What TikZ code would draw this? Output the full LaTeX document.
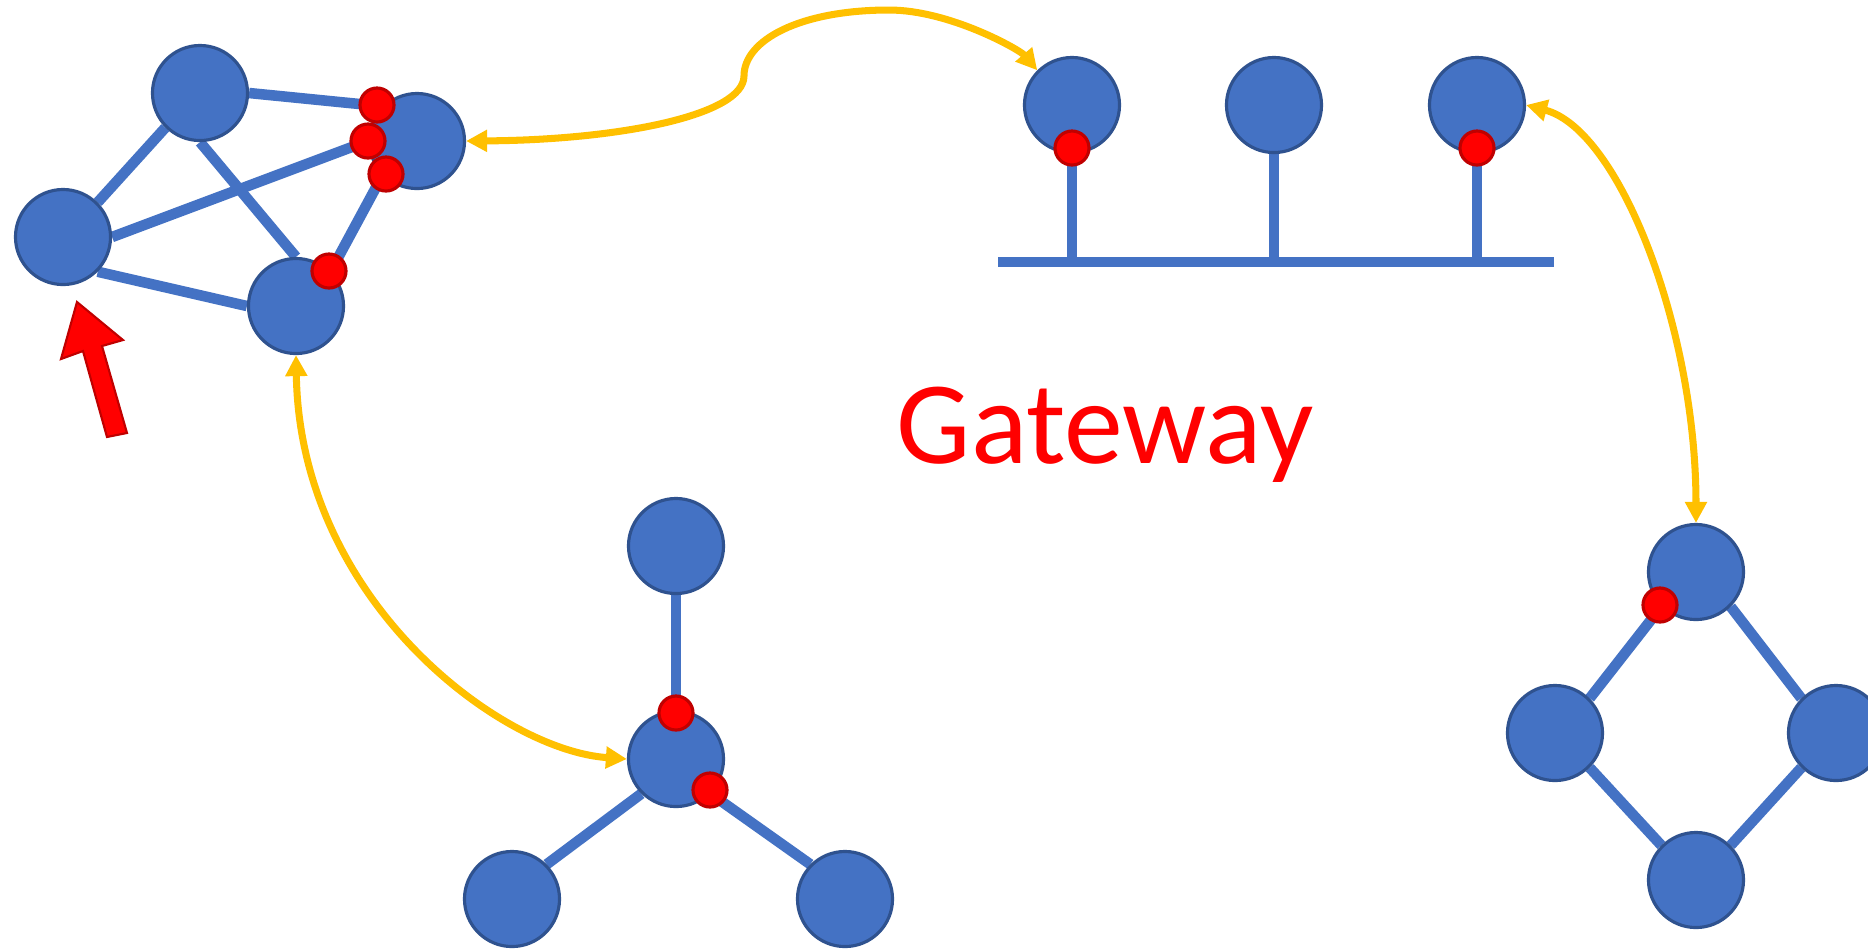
\documentclass[tikz,border=0pt]{standalone}
\usepackage{fontspec}
\setmainfont{Carlito}
\usetikzlibrary{arrows.meta}
\definecolor{nodeblue}{HTML}{4472C4}
\definecolor{nodeedge}{HTML}{2F528F}
\definecolor{dotred}{HTML}{FF0000}
\definecolor{dotedge}{HTML}{C00000}
\definecolor{gold}{HTML}{FFC000}
\pgfdeclarelayer{bg}
\pgfdeclarelayer{links}
\pgfsetlayers{bg,links,main}
\begin{document}
\begin{tikzpicture}[x=0.01cm,y=-0.01cm,
  host/.style={circle,fill=nodeblue,draw=nodeedge,line width=0.9pt,minimum size=0.95cm,inner sep=0pt},
  port/.style={circle,fill=dotred,draw=dotedge,line width=0.9pt,minimum size=0.34cm,inner sep=0pt},
  link/.style={draw=nodeblue,line width=3pt},
  hop/.style={draw=gold,line width=2pt,{Triangle[length=2.1mm,width=2.1mm]}-{Triangle[length=2.1mm,width=2.1mm]}},
  tip/.style={fill=dotred,draw=dotedge,line width=0.6pt,line join=miter},
]
\begin{pgfonlayer}{bg}
  \fill[white] (0,0) rectangle (1868,950);
\end{pgfonlayer}
\useasboundingbox (0,0) rectangle (1868,950);

% mesh cluster (top left)
\node[host] (A) at (200,93) {};
\node[host] (B) at (63,237) {};
\node[host] (C) at (417,141) {};
\node[host] (D) at (296,306) {};

% bus segment (top)
\node[host] (G1) at (1072,105) {};
\node[host] (G2) at (1274,105) {};
\node[host] (G3) at (1477,105) {};
\coordinate (busL) at (998,262);
\coordinate (busR) at (1554,262);

% star (bottom middle)
\node[host] (S0) at (676,759) {};
\node[host] (S1) at (676,546) {};
\node[host] (S2) at (512,899) {};
\node[host] (S3) at (845,899) {};

% ring (bottom right)
\node[host] (R1) at (1696,572) {};
\node[host] (R2) at (1555,733) {};
\node[host] (R3) at (1836,733) {};
\node[host] (R4) at (1696,880) {};

\begin{pgfonlayer}{links}
  \draw[link] (A.south west) -- (B.north east);
  \draw[link] (A.east) -- (C.north west);
  \draw[link] (A.south) -- (D.north);
  \draw[link] (B.east) -- (C.west);
  \draw[link] (B.south east) -- (D.west);
  \draw[link] (D.north east) -- (C.south west);

  \draw[link] (busL) -- (busR);
  \draw[link] (G1.south) -- (G1.south |- busL);
  \draw[link] (G2.south) -- (G2.south |- busL);
  \draw[link] (G3.south) -- (G3.south |- busL);

  \draw[link] (S1.south) -- (S0.north);
  \draw[link] (S0.south west) -- (S2.north east);
  \draw[link] (S0.south east) -- (S3.north west);

  \draw[link] (R1.south west) -- (R2.north east);
  \draw[link] (R1.south east) -- (R3.north west);
  \draw[link] (R2.south east) -- (R4.north west);
  \draw[link] (R3.south west) -- (R4.north east);
\end{pgfonlayer}

% interface markers
\node[port] (pA1) at (377,105) {};
\node[port] (pA2) at (368,141) {};
\node[port] (pA3) at (386,174) {};
\node[port] (pA4) at (329,271) {};
\node[port] (pG1) at (1072,148) {};
\node[port] (pG3) at (1477,148) {};
\node[port] (pS1) at (676,713) {};
\node[port] (pS2) at (710,790) {};
\node[port] (pR1) at (1660,605) {};

% gateway links between the networks
\draw[hop] (C.east) .. controls (620,140) and (744,115) .. (744,76)
  .. controls (744,40) and (800,10) .. (889,10)
  .. controls (950,10) and (1020,50) .. (G1.north west);
\draw[hop] (G3.east) .. controls (1620,130) and (1696,330) .. (R1.north);
\draw[hop] (D.south) .. controls (300,600) and (500,750) .. (S0.west);

% entry arrow
\filldraw[tip] (77,302) -- (123,340) -- (102,346) -- (127,433) -- (107,437) -- (83,351) -- (61,359) -- cycle;

\node[text=dotred, anchor=base, inner sep=0pt, font=\fontsize{33.5}{40}\selectfont] (gw) at (1105,463) {Gateway};
\end{tikzpicture}
\end{document}
